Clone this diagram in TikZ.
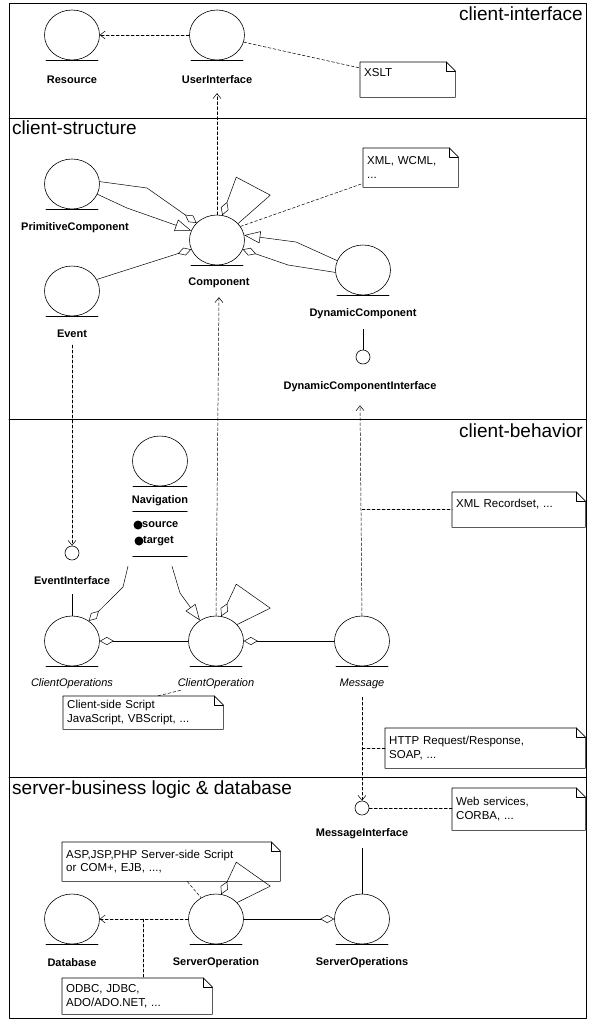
\documentclass[tikz,border=0pt]{standalone}
\usepackage{fontspec}
\setmainfont{Liberation Sans}
\usetikzlibrary{shapes.geometric,arrows.meta}
\begin{document}
\begin{tikzpicture}[x=1pt,y=1pt,line cap=round,line join=round,
  cls/.style={ellipse,draw,line width=0.6pt,minimum width=55pt,minimum height=50pt,inner sep=0pt},
  ifc/.style={circle,draw,line width=0.6pt,minimum size=14pt,inner sep=0pt},
  bar/.style={line width=0.9pt},
  lbl/.style={font=\fontsize{11}{13}\selectfont\bfseries,inner sep=1pt},
  oplbl/.style={font=\fontsize{11}{13}\selectfont\itshape,inner sep=1pt},
  hdr/.style={font=\fontsize{19}{22}\selectfont,inner sep=0pt},
  notebox/.style={rectangle,anchor=north west,align=left,text width=#1,inner xsep=4pt,inner ysep=4pt,
    font=\fontsize{11.5}{13.5}\selectfont,
    append after command={\pgfextra{
      \draw[line width=0.6pt] (\tikzlastnode.north west) -- ([xshift=-9pt]\tikzlastnode.north east)
        -- ([yshift=-9pt]\tikzlastnode.north east) -- (\tikzlastnode.south east)
        -- (\tikzlastnode.south west) -- cycle;
      \draw[line width=0.6pt] ([xshift=-9pt]\tikzlastnode.north east) -- ++(0,-9pt) -- ++(9pt,0);}}},
  dep/.style={dash pattern=on 3pt off 2pt,line width=0.5pt},
  assoc/.style={line width=0.5pt},
  depto/.style={-{Straight Barb[length=5pt,width=8pt]}},
  agg/.style={{Diamond[open,length=14pt,width=8pt]}-},
  gen/.style={-{Triangle[open,length=16pt,width=12pt]}}]
  \useasboundingbox (0,0) rectangle (594,-1021);
  % frame and swimlanes
  \draw[line width=0.7pt] (9,-3) rectangle (586,-1018);
  \draw[line width=0.5pt] (9,-118) -- (586,-118);
  \draw[line width=0.6pt] (9,-419) -- (586,-419);
  \draw[line width=0.6pt] (9,-777) -- (586,-777);
  \node[hdr,anchor=north east] (hdr-ci) at (583,-7) {client-interface};
  \node[hdr,anchor=north west] (hdr-cs) at (12,-121) {client-structure};
  \node[hdr,anchor=north east] (hdr-cb) at (583,-424) {client-behavior};
  \node[hdr,anchor=north west] (hdr-sb) at (12,-781) {server-business logic \& database};

  % client-interface
  \node[cls] (resource) at (72,-35) {};
  \draw[bar] ([xshift=-26pt]resource.south) -- ([xshift=26pt]resource.south);
  \node[lbl] (resource-lbl) at (72,-80) {Resource};
  \node[cls] (userif) at (217,-35) {};
  \draw[bar] ([xshift=-26pt]userif.south) -- ([xshift=26pt]userif.south);
  \node[lbl] (userif-lbl) at (217,-80) {UserInterface};
  \node[notebox=87pt,minimum height=35pt] (xslt) at (360,-62) {XSLT\\\mbox{}};
  \draw[dep,depto] (userif) -- (resource);
  \draw[dep] (userif.-15) -- ([yshift=-6pt]xslt.north west);

  % client-structure
  \node[cls] (primcomp) at (72,-184) {};
  \draw[bar] ([xshift=-26pt]primcomp.south) -- ([xshift=26pt]primcomp.south);
  \node[lbl] (primcomp-lbl) at (75,-228) {PrimitiveComponent};
  \node[cls] (comp) at (217,-240) {};
  \draw[bar] ([xshift=-26pt]comp.south) -- ([xshift=26pt]comp.south);
  \node[lbl] (comp-lbl) at (219,-283) {Component};
  \node[cls] (event) at (72,-291) {};
  \draw[bar] ([xshift=-26pt]event.south) -- ([xshift=26pt]event.south);
  \node[lbl] (event-lbl) at (72,-334) {Event};
  \node[cls] (dyncomp) at (363,-270) {};
  \draw[bar] ([xshift=-26pt]dyncomp.south) -- ([xshift=26pt]dyncomp.south);
  \node[lbl] (dyncomp-lbl) at (363,-314) {DynamicComponent};
  \node[ifc] (dynif) at (363,-357) {};
  \node[lbl] (dynif-lbl) at (360,-387) {DynamicComponentInterface};
  \node[notebox=87pt,minimum height=39pt] (xml) at (363,-148) {XML, WCML,\\...};
  \draw[dep,depto] (comp.north) -- ([yshift=-8pt]userif-lbl.south);
  \draw[assoc,agg] (comp.140) -- (147,-188) -- (primcomp.5);
  \draw[assoc,gen] (primcomp.-22) -- (127,-208) -- (comp.160);
  \draw[assoc,agg] (comp.200) -- (event.25);
  \draw[assoc,gen] (dyncomp.160) -- (296,-242) -- (comp.10);
  \draw[assoc,agg] (comp.-20) -- (288,-265) -- (dyncomp.185);
  \draw[assoc,agg] (comp.78) -- ++(14,38) -- ++(34,-18) -- (comp.38);
  \draw[dep] (comp.30) -- ([yshift=4pt]xml.south west);
  \draw[assoc] ([yshift=-9pt]dyncomp-lbl.south) -- (dynif.north);

  % client-behavior
  \node[cls] (nav) at (160,-461) {};
  \draw[bar] ([xshift=-27pt]nav.south) -- ([xshift=27pt]nav.south);
  \node[lbl] (nav-lbl) at (160,-501) {Navigation};
  \node[minimum width=54pt,minimum height=44pt,inner sep=0pt] (nav-attr) at (160,-534) {};
  \draw[line width=0.8pt] (nav-attr.north west) -- (nav-attr.north east);
  \draw[line width=0.8pt] (nav-attr.south west) -- (nav-attr.south east);
  \fill (138,-525) circle (4.5pt);
  \node[lbl,anchor=west] (nav-src) at (141,-525) {source};
  \fill (139,-541) circle (4.5pt);
  \node[lbl,anchor=west] (nav-tgt) at (142,-541) {target};
  \node[notebox=125pt,minimum height=35pt] (xmlrec) at (452,-492) {XML Recordset, ...\\\mbox{}};
  \node[ifc] (evif) at (72,-553) {};
  \node[lbl] (evif-lbl) at (72,-581) {EventInterface};
  \node[cls] (clops) at (72,-641) {};
  \draw[bar] ([xshift=-26pt]clops.south) -- ([xshift=26pt]clops.south);
  \node[oplbl] (clops-lbl) at (72,-684) {ClientOperations};
  \node[cls] (clop) at (216,-641) {};
  \draw[bar] ([xshift=-26pt]clop.south) -- ([xshift=26pt]clop.south);
  \node[oplbl] (clop-lbl) at (216,-684) {ClientOperation};
  \node[cls] (msg) at (362,-641) {};
  \draw[bar] ([xshift=-26pt]msg.south) -- ([xshift=26pt]msg.south);
  \node[oplbl] (msg-lbl) at (362,-684) {Message};
  \node[notebox=152pt,minimum height=33pt] (csnote) at (63,-696) {Client-side Script\\JavaScript, VBScript, ...};
  \node[notebox=192pt,minimum height=40pt] (http) at (385,-728) {HTTP Request/Response,\\SOAP, ...};
  \draw[dep,depto] ([yshift=-6pt]event-lbl.south) -- (evif.north);
  \draw[assoc] ([yshift=-8pt]evif-lbl.south) -- (clops.north);
  \draw[dep,depto] (clop.north) -- ([yshift=-8pt]comp-lbl.south);
  \draw[dep,depto] (msg.north) -- ([yshift=-12pt]dynif-lbl.south);
  \draw[dep] (msg.north |- xmlrec.west) -- (xmlrec.west);
  \draw[assoc,agg] (clops.50) -- (123,-587) -- ([xshift=-32pt,yshift=-10pt]nav-attr.south);
  \draw[assoc,gen] ([xshift=12pt,yshift=-10pt]nav-attr.south) -- (180,-593) -- (clop.128);
  \draw[assoc,agg] (clop.78) -- ++(15,32) -- ++(34,-24) -- (clop.38);
  \draw[assoc,agg] (clops.east) -- (clop.west);
  \draw[assoc,agg] (clop.east) -- (msg.west);
  \draw[dep] ([xshift=4pt]clop-lbl.south west) -- ([xshift=14pt]csnote.north);

  % server-business logic & database
  \node[ifc] (msgif) at (362,-808) {};
  \node[lbl] (msgif-lbl) at (362,-834) {MessageInterface};
  \node[notebox=125pt,minimum height=42pt] (websvc) at (452,-788) {Web services,\\CORBA, ...};
  \node[notebox=210pt,minimum height=39pt] (aspnote) at (62,-842) {ASP,JSP,PHP Server-side Script\\or COM+, EJB, ...,};
  \node[cls] (db) at (72,-919) {};
  \draw[bar] ([xshift=-26pt]db.south) -- ([xshift=26pt]db.south);
  \node[lbl] (db-lbl) at (72,-963) {Database};
  \node[cls] (srvop) at (216,-919) {};
  \draw[bar] ([xshift=-26pt]srvop.south) -- ([xshift=26pt]srvop.south);
  \node[lbl] (srvop-lbl) at (216,-963) {ServerOperation};
  \node[cls] (srvops) at (362,-919) {};
  \draw[bar] ([xshift=-26pt]srvops.south) -- ([xshift=26pt]srvops.south);
  \node[lbl] (srvops-lbl) at (362,-963) {ServerOperations};
  \node[notebox=142pt,minimum height=36pt] (odbc) at (62,-978) {ODBC, JDBC,\\ADO/ADO.NET, ...};
  \coordinate (odbc-tap) at (143,-919);
  \draw[dep,depto] ([yshift=-7pt]msg-lbl.south) -- (msgif.north);
  \draw[dep] (msg.north |- http.west) -- (http.west);
  \draw[dep] (msgif.east) -- (msgif.east -| websvc.west);
  \draw[assoc] ([yshift=-8pt]msgif-lbl.south) -- (srvops.north);
  \draw[dep] ([xshift=16pt]aspnote.south) -- (srvop.125);
  \draw[dep,depto] (srvop) -- (db);
  \draw[dep] (odbc-tap) -- (odbc-tap |- odbc.north);
  \draw[assoc,agg] (srvops.west) -- (srvop.east);
  \draw[assoc,agg] (srvop.78) -- ++(15,32) -- ++(34,-24) -- (srvop.38);
\end{tikzpicture}
\end{document}
